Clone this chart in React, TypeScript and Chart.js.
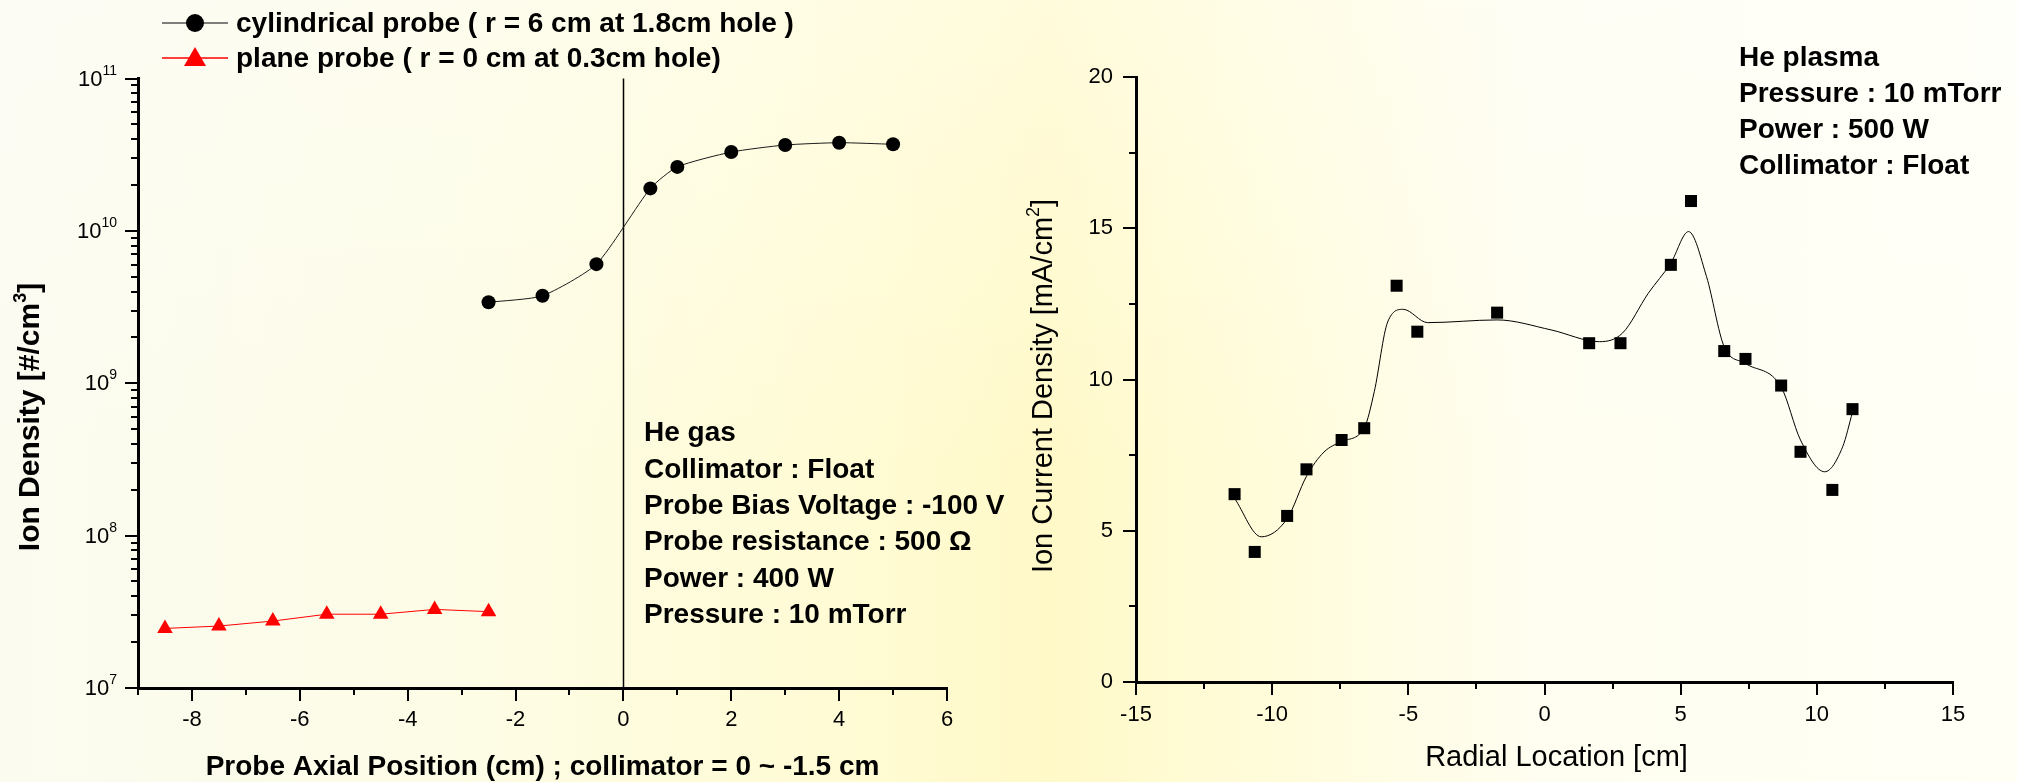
import { useEffect, useRef } from 'react';
import { Chart, registerables } from 'chart.js';

Chart.register(...registerables);

const FONT = "'Liberation Sans', Arial, Helvetica, sans-serif";

// ---- Axial scan (left panel) ----
const cylindricalPosition = [-2.5, -1.5, -0.5, 0.5, 1, 2, 3, 4, 5];
const cylindricalDensity = [3.4e9, 3.75e9, 6.05e9, 1.9e10, 2.63e10, 3.29e10, 3.66e10, 3.79e10, 3.7e10];
const planePosition = [-8.5, -7.5, -6.5, -5.5, -4.5, -3.5, -2.5];
const planeDensity = [2.46e7, 2.55e7, 2.75e7, 3.05e7, 3.05e7, 3.28e7, 3.17e7];
const densityDecades = [7, 8, 9, 10, 11];
const axialTicks = [-9, -8, -7, -6, -5, -4, -3, -2, -1, 0, 1, 2, 3, 4, 5, 6];
const cylindricalLabel = 'cylindrical probe ( r = 6 cm at 1.8cm hole )';
const planeLabel = 'plane probe ( r = 0 cm at 0.3cm hole)';
const axialNotes = [
  'He gas',
  'Collimator : Float',
  'Probe Bias Voltage : -100 V',
  'Probe resistance : 500 \u03A9',
  'Power : 400 W',
  'Pressure : 10 mTorr',
];

// ---- Radial scan (right panel) ----
const radialLocation = [-11.38, -10.64, -9.45, -8.74, -7.45, -6.62, -5.43, -4.67, -1.74, 1.64, 2.79, 4.64, 5.38, 6.6, 7.38, 8.69, 9.4, 10.57, 11.31];
const currentDensity = [6.21, 4.3, 5.49, 7.03, 8.0, 8.39, 13.1, 11.58, 12.21, 11.2, 11.2, 13.79, 15.9, 10.94, 10.68, 9.8, 7.61, 6.35, 9.02];
// smoothed trend line
const fitLocation = [-11.38, -10.4, -9.45, -8.74, -8.1, -7.45, -6.62, -6.25, -5.76, -5.19, -4.29, -1.74, 0.24, 2.02, 2.86, 3.81, 4.64, 5.29, 5.95, 6.6, 7.38, 8.69, 9.4, 10.29, 10.95, 11.31];
const fitDensity = [6.07, 4.8, 5.4, 6.8, 7.6, 7.95, 8.4, 9.6, 11.9, 12.32, 11.88, 11.97, 11.64, 11.25, 11.53, 12.85, 13.85, 14.89, 13.4, 11.08, 10.53, 9.75, 8.0, 6.95, 7.78, 8.92];
const radialTicks = [-15, -12.5, -10, -7.5, -5, -2.5, 0, 2.5, 5, 7.5, 10, 12.5, 15];
const currentTicks = [0, 2.5, 5, 7.5, 10, 12.5, 15, 17.5, 20];
const plasmaNotes = ['He plasma', 'Pressure : 10 mTorr', 'Power : 500 W', 'Collimator : Float'];

function drawAxisTicks(ctx: CanvasRenderingContext2D, scale: any, horizontal: boolean, isMajor: (v: number) => boolean) {
  ctx.save();
  ctx.strokeStyle = '#000';
  ctx.lineWidth = 2;
  for (const t of scale.ticks) {
    const p = Math.round(scale.getPixelForValue(t.value));
    const len = isMajor(t.value) ? 13 : 7;
    ctx.beginPath();
    if (horizontal) {
      ctx.moveTo(p, scale.top);
      ctx.lineTo(p, scale.top + len);
    } else {
      ctx.moveTo(scale.right, p);
      ctx.lineTo(scale.right - len, p);
    }
    ctx.stroke();
  }
  ctx.restore();
}

function drawRotatedWithSup(ctx: CanvasRenderingContext2D, cx: number, cy: number, main: string, sup: string, tail: string, font: string, supFont: string) {
  ctx.save();
  ctx.translate(cx, cy);
  ctx.rotate(-Math.PI / 2);
  ctx.fillStyle = '#000';
  ctx.textBaseline = 'middle';
  ctx.textAlign = 'left';
  ctx.font = font;
  const w1 = ctx.measureText(main).width;
  const w3 = ctx.measureText(tail).width;
  ctx.font = supFont;
  const w2 = ctx.measureText(sup).width;
  let x = -(w1 + w2 + w3) / 2;
  ctx.font = font;
  ctx.fillText(main, x, 0);
  x += w1;
  ctx.font = supFont;
  ctx.fillText(sup, x, -10);
  x += w2;
  ctx.font = font;
  ctx.fillText(tail, x, 0);
  ctx.restore();
}

const axialDecor = {
  id: 'axialDecor',
  beforeDatasetsDraw(chart: any) {
    const { ctx, chartArea, scales } = chart;
    const px = Math.round(scales.x.getPixelForValue(0)) + 0.5;
    ctx.save();
    ctx.strokeStyle = '#000';
    ctx.lineWidth = 1.5;
    ctx.beginPath();
    ctx.moveTo(px, chartArea.top);
    ctx.lineTo(px, chartArea.bottom);
    ctx.stroke();
    ctx.restore();
  },
  afterDraw(chart: any) {
    const { ctx, scales } = chart;
    const x = scales.x;
    const y = scales.y;
    drawAxisTicks(ctx, x, true, (v) => v % 2 === 0);
    drawAxisTicks(ctx, y, false, (v) => Math.abs(Math.log10(v) - Math.round(Math.log10(v))) < 1e-9);

    // decade labels 10^n
    ctx.save();
    ctx.fillStyle = '#000';
    for (const e of densityDecades) {
      const py = y.getPixelForValue(Math.pow(10, e));
      const exp = String(e);
      ctx.font = `14px ${FONT}`;
      const we = ctx.measureText(exp).width;
      ctx.textAlign = 'left';
      ctx.textBaseline = 'alphabetic';
      const right = 117;
      ctx.fillText(exp, right - we, py - 4);
      ctx.font = `22px ${FONT}`;
      ctx.textAlign = 'right';
      ctx.textBaseline = 'middle';
      ctx.fillText('10', right - we, py + 1);
    }
    ctx.restore();

    // axis titles
    ctx.save();
    ctx.fillStyle = '#000';
    ctx.font = `bold 28px ${FONT}`;
    ctx.textAlign = 'center';
    ctx.textBaseline = 'middle';
    ctx.fillText('Probe Axial Position (cm) ; collimator = 0 ~ -1.5 cm', (chart.chartArea.left + chart.chartArea.right) / 2, 767);
    ctx.restore();
    drawRotatedWithSup(ctx, 31, 417, 'Ion Density [#/cm', '3', ']', `bold 30px ${FONT}`, `bold 18px ${FONT}`);

    // legend
    const ds0 = chart.data.datasets[0];
    const ds1 = chart.data.datasets[1];
    ctx.save();
    ctx.lineWidth = 1.5;
    ctx.strokeStyle = '#555';
    ctx.beginPath();
    ctx.moveTo(162, 23);
    ctx.lineTo(228, 23);
    ctx.stroke();
    ctx.fillStyle = ds0.pointBackgroundColor;
    ctx.beginPath();
    ctx.arc(195, 23, 9, 0, Math.PI * 2);
    ctx.fill();
    ctx.strokeStyle = ds1.borderColor;
    ctx.beginPath();
    ctx.moveTo(162, 58);
    ctx.lineTo(228, 58);
    ctx.stroke();
    ctx.fillStyle = ds1.pointBackgroundColor;
    ctx.beginPath();
    ctx.moveTo(195, 47);
    ctx.lineTo(206, 66);
    ctx.lineTo(184, 66);
    ctx.closePath();
    ctx.fill();
    ctx.fillStyle = '#000';
    ctx.font = `bold 28px ${FONT}`;
    ctx.textAlign = 'left';
    ctx.textBaseline = 'middle';
    ctx.fillText(ds0.label, 236, 24);
    ctx.fillText(ds1.label, 236, 59);

    // condition notes
    const noteY = [433, 470, 506, 542, 579, 615];
    axialNotes.forEach((t, i) => ctx.fillText(t, 644, noteY[i]));
    ctx.restore();
  },
};

const radialDecor = {
  id: 'radialDecor',
  afterDraw(chart: any) {
    const { ctx, scales, chartArea } = chart;
    drawAxisTicks(ctx, scales.x, true, (v) => v % 5 === 0);
    drawAxisTicks(ctx, scales.y, false, (v) => v % 5 === 0);
    ctx.save();
    ctx.fillStyle = '#000';
    ctx.font = `29px ${FONT}`;
    ctx.textAlign = 'center';
    ctx.textBaseline = 'middle';
    ctx.fillText('Radial Location [cm]', (chartArea.left + chartArea.right) / 2 + 12, 758);
    ctx.font = `bold 28px ${FONT}`;
    ctx.textAlign = 'left';
    const noteY = [58, 94, 130, 166];
    plasmaNotes.forEach((t, i) => ctx.fillText(t, 739, noteY[i]));
    ctx.restore();
    drawRotatedWithSup(ctx, 44, 386, 'Ion Current Density [mA/cm', '2', ']', `29px ${FONT}`, `18px ${FONT}`);
  },
};

export default function App() {
  const leftRef = useRef<HTMLCanvasElement>(null);
  const rightRef = useRef<HTMLCanvasElement>(null);

  useEffect(() => {
    const tickFont = { family: FONT, size: 22 };
    const border = { display: true, color: '#000', width: 3 };

    const axial = new Chart(leftRef.current as HTMLCanvasElement, {
      type: 'line',
      data: {
        datasets: [
          {
            label: cylindricalLabel,
            data: cylindricalPosition.map((v, i) => ({ x: v, y: cylindricalDensity[i] })),
            borderColor: '#1a1a1a',
            borderWidth: 1,
            pointStyle: 'circle',
            pointRadius: 7,
            pointBackgroundColor: '#000',
            pointBorderColor: '#000',
            pointBorderWidth: 0,
            tension: 0.2,
            fill: false,
          },
          {
            label: planeLabel,
            data: planePosition.map((v, i) => ({ x: v, y: planeDensity[i] })),
            borderColor: '#ff0000',
            borderWidth: 1,
            pointStyle: 'triangle',
            pointRadius: 9,
            pointBackgroundColor: '#ff0000',
            pointBorderColor: '#ff0000',
            pointBorderWidth: 0,
            tension: 0,
            fill: false,
          },
        ],
      },
      options: {
        responsive: false,
        animation: false,
        devicePixelRatio: 1,
        layout: { padding: { left: 0, top: 78.5, right: 153, bottom: 0 } },
        plugins: { legend: { display: false }, tooltip: { enabled: false } },
        scales: {
          x: {
            type: 'linear',
            position: 'bottom',
            min: -9,
            max: 6,
            afterFit: (s: any) => { s.height = 94; },
            afterBuildTicks: (s: any) => { s.ticks = axialTicks.map((v) => ({ value: v })); },
            ticks: {
              autoSkip: false,
              maxRotation: 0,
              padding: 19,
              color: '#000',
              font: tickFont,
              callback: (v: any) => (Number(v) % 2 === 0 ? String(v) : ''),
            },
            grid: { display: false, drawTicks: false },
            border,
          },
          y: {
            type: 'logarithmic',
            min: 1e7,
            max: 1e11,
            afterFit: (s: any) => { s.width = 138; },
            afterBuildTicks: (s: any) => {
              const t: { value: number }[] = [];
              densityDecades.forEach((e) => {
                for (let m = 1; m <= 9; m++) {
                  if (e === 11 && m > 1) break;
                  t.push({ value: m * Math.pow(10, e) });
                }
              });
              s.ticks = t;
            },
            ticks: { display: false },
            grid: { display: false, drawTicks: false },
            border,
          },
        },
      },
      plugins: [axialDecor],
    });

    const radial = new Chart(rightRef.current as HTMLCanvasElement, {
      type: 'line',
      data: {
        datasets: [
          {
            label: 'Ion current density',
            data: radialLocation.map((v, i) => ({ x: v, y: currentDensity[i] })),
            showLine: false,
            pointStyle: 'rect',
            pointRadius: 8.5,
            pointBackgroundColor: '#000',
            pointBorderColor: '#000',
            pointBorderWidth: 0,
          },
          {
            label: 'Smoothed',
            data: fitLocation.map((v, i) => ({ x: v, y: fitDensity[i] })),
            borderColor: '#000',
            borderWidth: 1,
            pointRadius: 0,
            cubicInterpolationMode: 'monotone',
            fill: false,
          },
        ],
      },
      options: {
        responsive: false,
        animation: false,
        devicePixelRatio: 1,
        layout: { padding: { left: 0, top: 77, right: 64, bottom: 0 } },
        plugins: { legend: { display: false }, tooltip: { enabled: false } },
        scales: {
          x: {
            type: 'linear',
            position: 'bottom',
            min: -15,
            max: 15,
            afterFit: (s: any) => { s.height = 100; },
            afterBuildTicks: (s: any) => { s.ticks = radialTicks.map((v) => ({ value: v })); },
            ticks: {
              autoSkip: false,
              maxRotation: 0,
              padding: 20,
              color: '#000',
              font: tickFont,
              callback: (v: any) => (Number(v) % 5 === 0 ? String(v) : ''),
            },
            grid: { display: false, drawTicks: false },
            border,
          },
          y: {
            type: 'linear',
            min: 0,
            max: 20,
            afterFit: (s: any) => { s.width = 136; },
            afterBuildTicks: (s: any) => { s.ticks = currentTicks.map((v) => ({ value: v })); },
            ticks: {
              autoSkip: false,
              padding: 23,
              color: '#000',
              font: tickFont,
              callback: (v: any) => (Number(v) % 5 === 0 ? String(v) : ''),
            },
            grid: { display: false, drawTicks: false },
            border,
          },
        },
      },
      plugins: [radialDecor],
    });

    return () => {
      axial.destroy();
      radial.destroy();
    };
  }, []);

  return (
    <div
      style={{
        position: 'absolute',
        left: 0,
        top: 0,
        width: 2017,
        height: 782,
        overflow: 'hidden',
        background:
          'linear-gradient(180deg, rgba(255,255,255,0.35) 0%, rgba(255,255,255,0) 60%), linear-gradient(90deg, #FBFBF0 0%, #FDFCE6 22%, #FFFBD4 42%, #FFF9C8 52%, #FFFCDC 64%, #FFFEF0 76%, #FFFFF6 100%)',
      }}
    >
      <canvas ref={leftRef} width={1100} height={782} style={{ position: 'absolute', left: 0, top: 0, width: 1100, height: 782 }} />
      <canvas ref={rightRef} width={1017} height={782} style={{ position: 'absolute', left: 1000, top: 0, width: 1017, height: 782 }} />
    </div>
  );
}
